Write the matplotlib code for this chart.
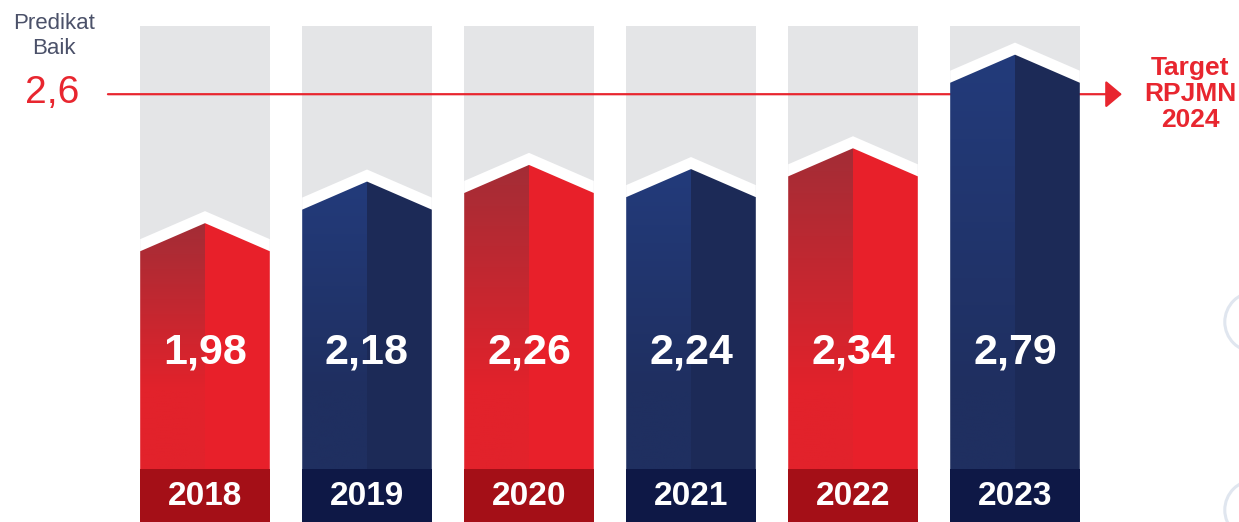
import numpy as np
import matplotlib.pyplot as plt
from matplotlib.patches import Polygon, Rectangle, Ellipse
from matplotlib.colors import to_rgb

#%%
years = ["2018", "2019", "2020", "2021", "2022", "2023"]
values = [1.98, 2.18, 2.26, 2.24, 2.34, 2.79]
value_labels = ["1,98", "2,18", "2,26", "2,24", "2,34", "2,79"]
bar_kind = ["red", "blue", "red", "blue", "red", "blue"]
target = 2.6
target_label = "2,6"

#%%
plt.rcParams["font.family"] = ["Liberation Sans", "DejaVu Sans"]

colors = {
    "red": {"left_top": "#a32d36", "left_bot": "#e2222b", "right": "#e8202a", "box": "#a40f17"},
    "blue": {"left_top": "#233b7b", "left_bot": "#1f2f60", "right": "#1c2a57", "box": "#0e1846"},
}
grey = "#e4e5e7"
target_red = "#e8262f"

half_w = 0.40      # half bar width (category units)
rise = 0.135       # roof height
white_gap = 0.058  # white band above roof
col_top = 2.93     # top of grey column
box_top = 0.80     # top of year box
label_y = 1.36
year_y = 0.668
grad_end = 1.18

fig = plt.figure(figsize=(12.39, 5.22), dpi=100)
ax = fig.add_axes([0, 0, 1, 1])
ax.set_xlim(-1.2654, 6.3827)
ax.set_ylim(0.5433, 3.0529)
ax.axis("off")
base = ax.get_ylim()[0]

for i, (yr, v, lab, kind) in enumerate(zip(years, values, value_labels, bar_kind)):
    c = colors[kind]
    x0, x1 = i - half_w, i + half_w
    # grey background column
    ax.add_patch(Rectangle((x0, base), x1 - x0, col_top - base, facecolor=grey, edgecolor="none", zorder=1))
    # white band above the roof
    g = white_gap
    ax.add_patch(Polygon([(x0, base), (x0, v - rise + g), (i, v + g), (x1, v - rise + g), (x1, base)],
                         closed=True, facecolor="white", edgecolor="none", zorder=2))
    # right half solid
    ax.add_patch(Polygon([(i, base), (i, v), (x1, v - rise), (x1, base)],
                         closed=True, facecolor=c["right"], edgecolor="none", zorder=3))
    # left half with gradient
    left = Polygon([(x0, base), (x0, v - rise), (i, v), (i, base)],
                   closed=True, facecolor="none", edgecolor="none", zorder=3)
    ax.add_patch(left)
    n = 200
    ys = np.linspace(v, base, n)
    t = np.clip((v - ys) / (v - grad_end), 0, 1)[:, None]
    ct, cb = np.array(to_rgb(c["left_top"])), np.array(to_rgb(c["left_bot"]))
    img = (ct * (1 - t) + cb * t)[:, None, :]
    im = ax.imshow(img, extent=[x0, i, base, v], aspect="auto", interpolation="bilinear", zorder=3)
    im.set_clip_path(left)
    # year box
    ax.add_patch(Rectangle((x0, base), x1 - x0, box_top - base, facecolor=c["box"], edgecolor="none", zorder=4))
    ax.text(i, label_y, lab, ha="center", va="center", color="white", fontsize=31, fontweight="bold", zorder=5)
    ax.text(i, year_y, yr, ha="center", va="center", color="white", fontsize=24, fontweight="bold", zorder=5)

# target line
ax.annotate("", xy=(5.66, target), xytext=(-0.599, target),
            arrowprops=dict(arrowstyle="-|>,head_length=0.5,head_width=0.42", color=target_red,
                            lw=1.6, mutation_scale=20, shrinkA=0, shrinkB=0),
            zorder=2.5)
ax.text(-0.945, target + 0.005, target_label, ha="center", va="center", color=target_red, fontsize=28, zorder=5)
ax.text(-0.93, 2.88, "Predikat\nBaik", ha="center", va="center", color="#4b5169",
        fontsize=16, linespacing=1.25, zorder=5)
ax.text(6.08, target + 0.0, "Target\nRPJMN\n2024", ha="center", va="center", color=target_red,
        fontsize=19, fontweight="bold", linespacing=1.1, zorder=5)

# faint decorative circles at the right edge
for cy in [1.505, 0.601]:
    ax.add_patch(Ellipse((6.48, cy), 0.37, 0.288, facecolor="none",
                         edgecolor="#e0e6ef", lw=2.2, zorder=1))

fig.savefig("out.png", dpi=100)
